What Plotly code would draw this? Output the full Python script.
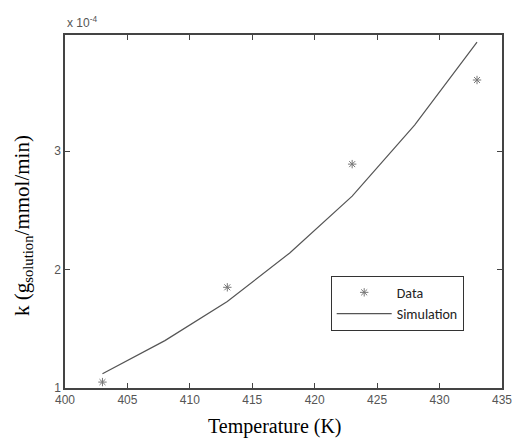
import plotly.graph_objects as go

# Data (k in units of 1e-4)
data_T = [403, 413, 423, 433]
data_k = [1.05, 1.85, 2.89, 3.60]

sim_T = [403, 408, 413, 418, 423, 428, 433]
sim_k = [1.12, 1.40, 1.73, 2.14, 2.62, 3.22, 3.92]

x_ticks = [400, 405, 410, 415, 420, 425, 430, 435]
y_ticks = [1, 2, 3]

fig = go.Figure()
fig.add_trace(go.Scatter(
    x=data_T, y=data_k, mode="markers", name="Data",
    marker=dict(symbol="asterisk-open", size=7, color="#777777",
                line=dict(color="#777777", width=1)),
))
fig.add_trace(go.Scatter(
    x=sim_T, y=sim_k, mode="lines", name="Simulation",
    line=dict(color="#555555", width=1.2),
))

tickfont = dict(family="Liberation Sans, Arial", size=12, color="#555555")
fig.update_layout(
    width=523, height=438,
    margin=dict(l=65, r=11, t=35, b=50),
    paper_bgcolor="white", plot_bgcolor="white",
    showlegend=True,
    legend=dict(x=0.608, y=0.318, xanchor="left", yanchor="top",
                bordercolor="#333333", borderwidth=1, bgcolor="white",
                itemwidth=55,
                font=dict(family="Carlito, Liberation Sans, Arial", size=14, color="#222222"),
                tracegroupgap=0),
    xaxis=dict(range=[400, 435], tickvals=x_ticks, ticks="inside", ticklen=5,
               tickcolor="#444444", showline=True, linecolor="#444444", linewidth=1.5,
               mirror="ticks", showgrid=False, zeroline=False, tickfont=tickfont,
               ticklabeloverflow="allow"),
    yaxis=dict(range=[1, 3.98], tickvals=y_ticks, ticks="inside", ticklen=5,
               tickcolor="#444444", showline=True, linecolor="#444444", linewidth=1.5,
               mirror="ticks", showgrid=False, zeroline=False, tickfont=tickfont),
)
fig.add_annotation(text="x 10<sup>-4</sup>", xref="paper", yref="paper", x=0, y=1,
                   xanchor="left", yanchor="bottom", showarrow=False, yshift=3,
                   font=dict(family="Liberation Sans, Arial", size=12, color="#555555"))
fig.add_annotation(text="Temperature (K)", xref="paper", yref="paper", x=0.481, y=-0.108,
                   xanchor="center", yanchor="middle", showarrow=False,
                   font=dict(family="Liberation Serif, Times New Roman", size=20, color="black"))
fig.add_annotation(text="k (g<sub>solution</sub>/mmol/min)", xref="paper", yref="paper",
                   x=-0.096, y=0.459, xanchor="center", yanchor="middle", showarrow=False,
                   textangle=-90,
                   font=dict(family="Liberation Serif, Times New Roman", size=21, color="black"))

fig.write_html("out.html", config={"displayModeBar": False},
               post_script="document.body.style.margin='0';document.body.style.overflow='hidden';")
